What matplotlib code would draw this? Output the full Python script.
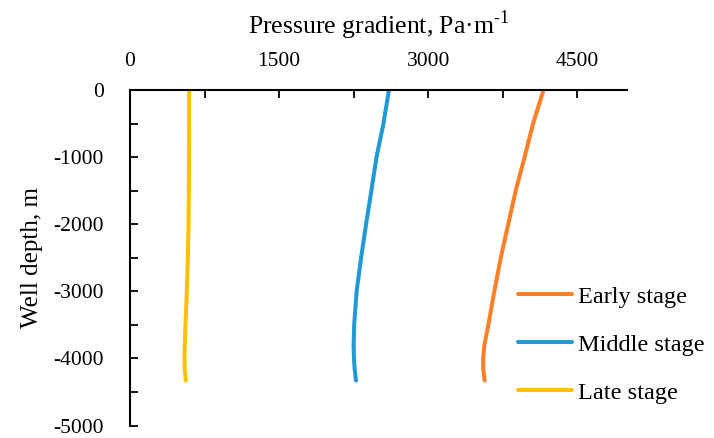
import matplotlib.pyplot as plt
plt.switch_backend('agg')
from matplotlib.ticker import MultipleLocator

plt.rcParams['font.family'] = ['Liberation Serif', 'DejaVu Serif']
plt.rcParams['font.size'] = 15
plt.rcParams['axes.unicode_minus'] = False
plt.rcParams['mathtext.fontset'] = 'custom'
plt.rcParams['mathtext.rm'] = 'Liberation Serif'

# well depth (m) and pressure gradient (Pa/m) per production stage
depth = [0, -500, -1000, -1500, -2000, -2500, -3000, -3500, -3800, -4000, -4150, -4330]
early = [4160, 4055, 3970, 3880, 3805, 3730, 3665, 3605, 3565, 3553, 3553, 3568]
middle = [2605, 2550, 2480, 2428, 2375, 2325, 2280, 2255, 2250, 2253, 2260, 2273]
late = [595, 595, 594, 592, 589, 582, 572, 558, 551, 548, 550, 562]

series = [
    ('Early stage', early, '#FF7F27'),
    ('Middle stage', middle, '#1E9BD7'),
    ('Late stage', late, '#FFC000'),
]

fig = plt.figure(figsize=(7.14, 4.38), dpi=100)
ax = fig.add_axes([130 / 714, 1 - 425.5 / 438, (627 - 130) / 714, (425.5 - 90) / 438])

for name, values, color in series:
    ax.plot(values, depth, color=color, lw=2.9, solid_capstyle='round', label=name)

ax.set_xlim(0, 5000)
ax.set_ylim(-5000, 0)

ax.xaxis.set_major_locator(MultipleLocator(1500))
ax.xaxis.set_minor_locator(MultipleLocator(750))
ax.yaxis.set_major_locator(MultipleLocator(1000))
ax.yaxis.set_minor_locator(MultipleLocator(500))
ax.xaxis.tick_top()
ax.xaxis.set_label_position('top')
ax.tick_params(which='both', direction='in', length=6, width=1.3, color='black')
ax.tick_params(axis='x', which='both', top=True, bottom=False, pad=14, labelsize=15.5)
ax.tick_params(axis='y', which='both', pad=19, labelsize=15.5)

for side in ['right', 'bottom']:
    ax.spines[side].set_visible(False)
for side in ['top', 'left']:
    ax.spines[side].set_linewidth(1.5)

ax.set_xlabel('Pressure gradient, Pa·m$^{\\text{-1}}$', fontsize=18.5, labelpad=13)
ax.set_ylabel('Well depth, m', fontsize=18, labelpad=7)

ax.legend(loc='lower right', bbox_to_anchor=(1.20, 0.0), frameon=False, fontsize=17.5,
          handlelength=2.2, handletextpad=0.25, labelspacing=1.07)

plt.savefig('out.png', dpi=100)
